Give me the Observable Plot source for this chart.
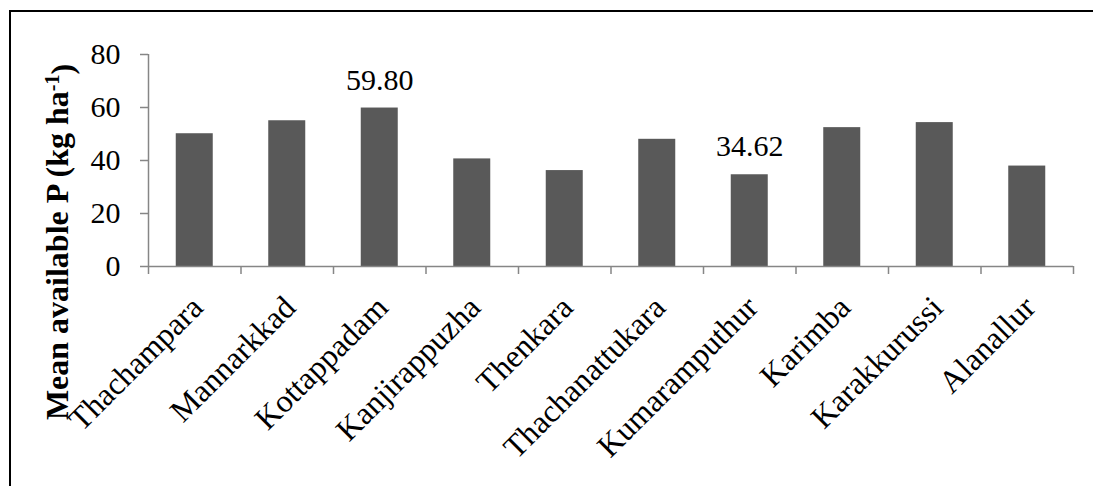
<!DOCTYPE html>
<html>
<head>
<meta charset="utf-8">
<script src="https://cdn.jsdelivr.net/npm/d3@7"></script>
<script src="https://cdn.jsdelivr.net/npm/@observablehq/plot@0.6"></script>
<style>
  html, body { margin: 0; padding: 0; background: #fff; }
  #wrap { position: relative; width: 1093px; height: 486px; overflow: hidden; }
  #wrap svg { position: absolute; left: 0; top: 0; }
  #wrap svg text { font-family: "Liberation Serif", "Times New Roman", serif; }
  #border { position: absolute; left: 9px; top: 10px; right: -10px; bottom: -10px;
            border-left: 2px solid #000; border-top: 2px solid #000; pointer-events: none; }
</style>
</head>
<body>
<div id="wrap"><div id="border"></div></div>
<script>
// Panchayats (categories) in display order
const panchayats = [
  "Thachampara", "Mannarkkad", "Kottappadam", "Kanjirappuzha", "Thenkara",
  "Thachanattukara", "Kumaramputhur", "Karimba", "Karakkurussi", "Alanallur"
];
// Mean available phosphorus, kg ha-1
const meanP = [50.1, 55.0, 59.80, 40.6, 36.2, 48.0, 34.62, 52.4, 54.3, 37.9];
// Bars whose value is printed above them
const annotated = ["Kottappadam", "Kumaramputhur"];
// Y-axis tick values
const yTicks = [0, 20, 40, 60, 80];

const rows = panchayats.map((name, i) => ({name, i, value: meanP[i]}));
const n = panchayats.length;
const axisGray = "#868686";
const serif = "Liberation Serif";

const chart = Plot.plot({
  width: 1093,
  height: 486,
  marginLeft: 148,
  marginRight: 20,
  marginTop: 54,
  marginBottom: 220,
  x: {type: "linear", domain: [0, n], axis: null},
  y: {domain: [0, 80], axis: null},
  style: {fontFamily: serif, fontSize: "30px", background: "transparent", color: "#000"},
  marks: [
    Plot.rectY(rows, {
      x1: d => d.i, x2: d => d.i + 1, y: "value",
      insetLeft: 27.75, insetRight: 27.75, fill: "#595959"
    }),
    // axis lines
    Plot.ruleX([0], {stroke: axisGray, strokeWidth: 1.5}),
    Plot.ruleY([0], {stroke: axisGray, strokeWidth: 1.5}),
    // y ticks and labels
    Plot.axisY(yTicks, {
      anchor: "left", tickSize: 8, tickPadding: 20, stroke: axisGray, strokeWidth: 1.5,
      fill: "#000", fontSize: 30, fontFamily: serif, label: null
    }),
    // x ticks between categories
    Plot.axisX(d3.range(n + 1), {
      anchor: "bottom", tickSize: 8, stroke: axisGray, strokeWidth: 1.5,
      fill: "none", label: null
    }),
    // rotated category names
    Plot.text(rows, {
      x: d => d.i + 0.5, frameAnchor: "bottom", text: "name",
      rotate: -45, textAnchor: "end", lineAnchor: "bottom",
      dx: 10, dy: 43, fontSize: 32, fontFamily: serif, fill: "#000"
    }),
    // value labels
    Plot.text(rows.filter(d => annotated.includes(d.name)), {
      x: d => d.i + 0.5, y: "value", text: d => d.value.toFixed(2),
      dy: -28, fontSize: 30, fontFamily: serif, fill: "#000"
    })
  ]
});

// Y-axis title with superscript unit
const svg = d3.select(chart);
const title = svg.append("text")
  .attr("transform", "translate(68,242) rotate(-90)")
  .attr("text-anchor", "middle")
  .attr("font-family", serif)
  .attr("font-weight", "bold")
  .attr("font-size", 32)
  .attr("fill", "#000");
title.append("tspan").text("Mean available P (kg ha");
title.append("tspan").attr("dy", "-0.45em").attr("font-size", 20).text("-1");
title.append("tspan").attr("dy", "0.45em").text(")");

document.getElementById("wrap").prepend(chart);
</script>
</body>
</html>
